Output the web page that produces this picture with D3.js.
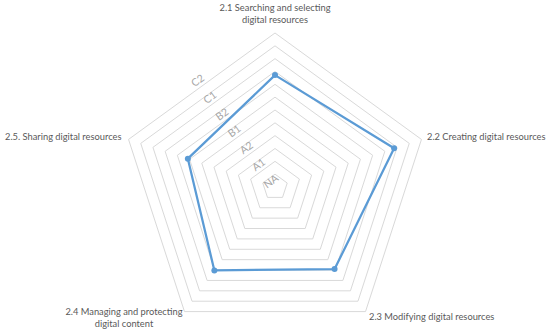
<!DOCTYPE html>
<html>
<head>
<meta charset="utf-8">
<script src="https://cdn.jsdelivr.net/npm/d3@7"></script>
<style>
  body { margin: 0; background: #fff; }
  svg { display: block; font-family: Lato, "Open Sans", sans-serif; }
</style>
</head>
<body>
<svg id="chart" width="550" height="331"></svg>
<script>
// competence areas, clockwise from the top
const categories = [
  ['2.1 Searching and selecting', 'digital resources'],
  ['2.2 Creating digital resources'],
  ['2.3 Modifying digital resources'],
  ['2.4 Managing and protecting', 'digital content'],
  ['2.5. Sharing digital resources']
]
const levels = ['NA', 'A1', 'A2', 'B1', 'B2', 'C1', 'C2']
const values = [4.36, 4.88, 3.95, 4.02, 3.57]

const svg = d3.select('#chart')
const cx = 275
const cy = 187
const R = 154

const r = d3.scaleLinear().domain([0, levels.length - 1]).range([0, R])
const angle = d3.scaleLinear().domain([0, categories.length]).range([0, 2 * Math.PI])

const pt = (i, v) => [cx + r(v) * Math.sin(angle(i)), cy - r(v) * Math.cos(angle(i))]

// grid rings every half level
const rings = d3.range(0.5, levels.length - 0.99, 0.5)
svg.append('g')
  .selectAll('polygon')
  .data(rings)
  .join('polygon')
  .attr('points', v => categories.map((c, i) => pt(i, v).join(',')).join(' '))
  .attr('fill', 'none')
  .attr('stroke', '#d9d9d9')
  .attr('stroke-width', 1)

// level labels, along the bisector between the first and last axis
const half = Math.PI / categories.length
const apo = Math.cos(half)
svg.append('g')
  .selectAll('text')
  .data(levels)
  .join('text')
  .attr('transform', (d, i) => {
    const dist = r(i) * apo + 7
    const x = cx - dist * Math.sin(half)
    const y = cy - dist * Math.cos(half)
    return `translate(${x},${y}) rotate(-36)`
  })
  .attr('text-anchor', 'middle')
  .attr('dy', '0.35em')
  .attr('fill', '#a6a6a6')
  .attr('font-size', 10.5)
  .text(d => d)

// category labels
const labelPos = [
  { x: 275, y: 10.5, anchor: 'middle' },
  { x: 427, y: 140, anchor: 'start' },
  { x: 369, y: 320, anchor: 'start' },
  { x: 124, y: 314.5, anchor: 'middle' },
  { x: 5, y: 140, anchor: 'start' }
]
const cat = svg.append('g')
  .selectAll('text')
  .data(categories)
  .join('text')
  .attr('x', (d, i) => labelPos[i].x)
  .attr('y', (d, i) => labelPos[i].y)
  .attr('text-anchor', (d, i) => labelPos[i].anchor)
  .attr('fill', '#595959')
  .attr('font-size', 9.3)
cat.selectAll('tspan')
  .data((d, i) => d.map(t => ({ t, x: labelPos[i].x })))
  .join('tspan')
  .attr('x', d => d.x)
  .attr('dy', (d, j) => j === 0 ? 0 : 12)
  .text(d => d.t)

// series
const line = d3.line().curve(d3.curveLinearClosed)
svg.append('path')
  .attr('d', line(values.map((v, i) => pt(i, v))))
  .attr('fill', 'none')
  .attr('stroke', '#5b9bd5')
  .attr('stroke-width', 2.25)
  .attr('stroke-linejoin', 'round')

svg.append('g')
  .selectAll('circle')
  .data(values)
  .join('circle')
  .attr('cx', (v, i) => pt(i, v)[0])
  .attr('cy', (v, i) => pt(i, v)[1])
  .attr('r', 3)
  .attr('fill', '#5b9bd5')
</script>
</body>
</html>
